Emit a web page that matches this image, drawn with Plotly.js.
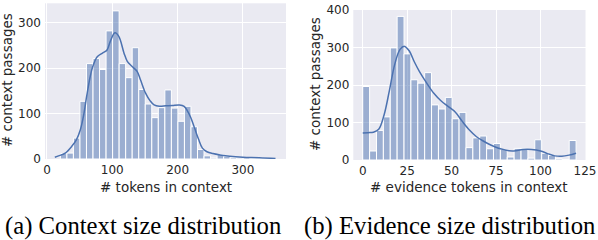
<!DOCTYPE html>
<html>
<head>
<meta charset="utf-8">
<script src="https://cdn.plot.ly/plotly-3.0.1.min.js"></script>
<style>
html,body{margin:0;padding:0;background:#fff;}
#chart{width:598px;height:240px;}
</style>
</head>
<body>
<div id="chart"></div>
<script>
// ---- Data ----
// Panel (a): context size histogram, bin width 10
const ctxBinCenters = [25.5,35.5,45.5,55.5,65.5,75.5,85.5,95.5,105.5,115.5,125.5,135.5,145.5,155.5,165.5,175.5,185.5,195.5,205.5,215.5,225.5,235.5,245.5,255.5,265.5,275.5,285.5,295.5,305.5,315.5,325.5,335.5,345.5];
const ctxCounts = [12,13,46,127,210,221,197,282,326,210,179,245,153,121,91,113,152,112,83,116,71,21,7,2,10,6,3,2,3,1,1,1,1];
const ctxBinWidth = 10;
const ctxKdeX = [12,20,28,38,45,51,56,61,66,70,77,85,92,97,104,110,118,123,130,138,143,151,158,164,172,182,192,203,210,215,220,226,232,238,245,254,265,280,300,325,350];
const ctxKdeY = [4,8,13,28,42,64,95,140,180,203,225,233,240,259,278,270,233,215,204,193,175,145,128,119,116,117,118,119,116,106,92,68,44,24,16,12,9,6,4,3,1];

// Panel (b): evidence size histogram, 31 bins over 0..120
const evBinWidth = 120/31;
const evBinCenters = [1.94,5.81,9.68,13.55,17.42,21.29,25.16,29.03,32.90,36.77,40.65,44.52,48.39,52.26,56.13,60.00,63.87,67.74,71.61,75.48,79.35,83.23,87.10,90.97,94.84,98.71,102.58,106.45,110.32,114.19,118.06];
const evCounts = [196,24,79,115,299,383,283,214,205,233,147,136,167,110,127,33,59,64,30,44,28,8,31,31,5,54,18,12,3,1,52];
const evKdeX = [0,3,6,9,12,15,18,21,23.5,26,29,32,36,40,44,48,52,56,60,64,68,72,76,80,85,90,95,100,104,108,112,116,120];
const evKdeY = [72,73,74,82,120,185,255,295,303,292,262,235,205,178,158,143,128,103,80,62,50,40,32,27,24,28,28,24,17,11,10,13,18];

// Tick labels
const ctxTicks = [0,100,200,300];
const cntTicks1 = [0,100,200,300];
const evTicks = [0,25,50,75,100,125];
const cntTicks2 = [0,100,200,300,400];

const xLabelA = '# tokens in context';
const xLabelB = '# evidence tokens in context';
const yLabel = '# context passages';
const captionA = '(a) Context size distribution';
const captionB = '(b) Evidence size distribution';

// ---- Styling ----
const W = 598, H = 240;
const px = v => v / W;
const py = v => 1 - v / H;
const barColor = 'rgba(76,114,176,0.5)';
const lineColor = '#4C72B0';
const txt = '#262626';
const tickFont = {family: 'DejaVu Sans', size: 12, color: txt};
const labFont = {family: 'DejaVu Sans', size: 13.5, color: txt};
const capFont = {family: 'Liberation Serif', size: 24.7, color: '#000'};

const traces = [
  {type: 'bar', x: ctxBinCenters, y: ctxCounts, width: ctxBinWidth, xaxis: 'x', yaxis: 'y',
   marker: {color: barColor, line: {color: '#ffffff', width: 1}}, hoverinfo: 'skip'},
  {type: 'scatter', mode: 'lines', x: ctxKdeX, y: ctxKdeY, xaxis: 'x', yaxis: 'y',
   line: {color: lineColor, width: 1.5, shape: 'spline', smoothing: 1}, hoverinfo: 'skip'},
  {type: 'bar', x: evBinCenters, y: evCounts, width: evBinWidth, xaxis: 'x2', yaxis: 'y2',
   marker: {color: barColor, line: {color: '#ffffff', width: 1}}, hoverinfo: 'skip'},
  {type: 'scatter', mode: 'lines', x: evKdeX, y: evKdeY, xaxis: 'x2', yaxis: 'y2',
   line: {color: lineColor, width: 1.5, shape: 'spline', smoothing: 1}, hoverinfo: 'skip'}
];

function ax(extra) {
  return Object.assign({
    showgrid: true, gridcolor: '#ffffff', gridwidth: 1, zeroline: false, showline: false,
    ticks: '', tickfont: tickFont, tickmode: 'array', fixedrange: true
  }, extra);
}

const layout = {
  width: W, height: H,
  margin: {l: 0, r: 0, t: 0, b: 0},
  paper_bgcolor: '#ffffff',
  plot_bgcolor: '#EAEAF2',
  showlegend: false,
  barmode: 'overlay',
  xaxis: ax({domain: [px(45), px(286)], range: [-3, 366], tickvals: ctxTicks, anchor: 'y', ticklabelstandoff: 2}),
  yaxis: ax({domain: [py(159), py(3.3)], range: [0, 342.7], tickvals: cntTicks1, anchor: 'x', ticklabelstandoff: 3}),
  xaxis2: ax({domain: [px(353.3), px(585.5)], range: [-5.3, 125.3], tickvals: evTicks, anchor: 'y2', ticklabelstandoff: 2}),
  yaxis2: ax({domain: [py(160), py(10)], range: [0, 400], tickvals: cntTicks2, anchor: 'x2', ticklabelstandoff: 3}),
  annotations: [
    {text: xLabelA, xref: 'paper', yref: 'paper', x: px(166), y: py(186.5), showarrow: false, font: labFont, xanchor: 'center', yanchor: 'middle'},
    {text: xLabelB, xref: 'paper', yref: 'paper', x: px(469), y: py(186.5), showarrow: false, font: labFont, xanchor: 'center', yanchor: 'middle'},
    {text: yLabel, xref: 'paper', yref: 'paper', x: px(7), y: py(80), showarrow: false, font: labFont, textangle: -90, xanchor: 'center', yanchor: 'middle'},
    {text: yLabel, xref: 'paper', yref: 'paper', x: px(315), y: py(84), showarrow: false, font: labFont, textangle: -90, xanchor: 'center', yanchor: 'middle'},
    {text: captionA, xref: 'paper', yref: 'paper', x: px(143), y: py(226), showarrow: false, font: capFont, xanchor: 'center', yanchor: 'middle'},
    {text: captionB, xref: 'paper', yref: 'paper', x: px(449.5), y: py(226), showarrow: false, font: capFont, xanchor: 'center', yanchor: 'middle'}
  ]
};

Plotly.newPlot('chart', traces, layout, {displayModeBar: false, staticPlot: true});
</script>
</body>
</html>
